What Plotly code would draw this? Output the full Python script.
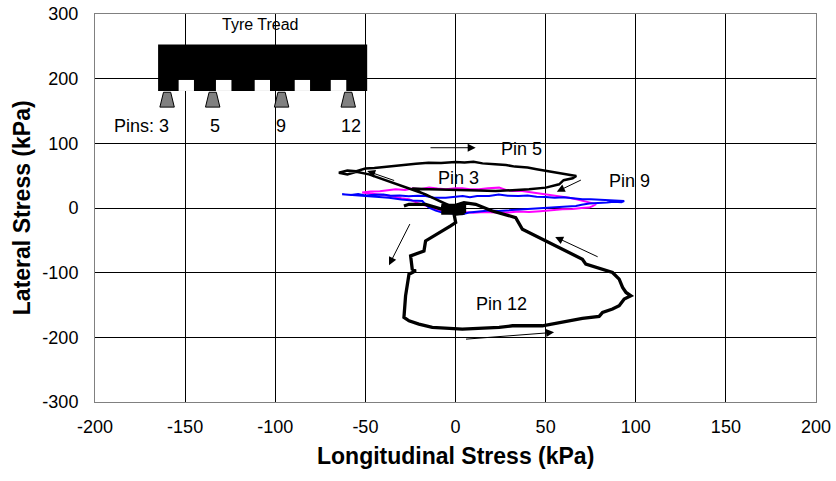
import plotly.graph_objects as go

# ---------------- data ----------------
x_ticks = [-200, -150, -100, -50, 0, 50, 100, 150, 200]
x_tick_labels = ["-200", "-150", "-100", "-50", "0", "50", "100", "150", "200"]
y_ticks = [-300, -200, -100, 0, 100, 200, 300]
y_tick_labels = ["-300", "-200", "-100", "0", "100", "200", "300"]

# Pin 3 (magenta)
pin3_x = [-51.8, -47, -42, -38, -33.2, -28, -24, -19, -14.7, -10, -5.4, 0, 3.8, 8, 13, 18, 24.2,
          28, 31.6, 36, 40, 45, 50.1, 55, 59, 63, 67, 71, 76, 78, 76, 74.2, 70, 65, 59.3, 53, 47,
          40.8, 35, 29, 22.3, 16, 10, 3.8, -2, -7.3, -12, -16.6, -21, -25.8, -30, -36, -42.5, -47, -51.8]
pin3_y = [23.8, 25.5, 26, 27.5, 28.9, 28, 30, 29.5, 31.5, 30, 29, 30.5, 30.4, 29, 29, 30.5, 31.5,
          28, 26.2, 26.5, 25, 23.5, 21.1, 20, 18, 16, 13.5, 11, 8.3, 6, 3, 0.6, 0, -1.5, -2, -3, -5,
          -6.2, -5.5, -7, -7.1, -6, -7.5, -6.2, -5.5, -4.6, -1, 3.1, 8, 13.4, 15, 18.5, 21.1, 22.5, 23.8]

# Pin 9 (blue)
pin9_x = [-62.9, -58, -54, -50, -45, -40, -36, -31, -26, -21, -16.6, -12, -5.4, 0, 4, 8, 12, 18.6,
          24, 29, 35, 40, 45, 50, 55, 60, 65, 70.4, 75, 80, 85, 89, 93.6, 92, 88, 84, 79, 74.2, 70,
          66.8, 62, 56, 50, 44, 37, 30, 24, 18.6, 12, 7.5, 3.8, -2, -7.3, -11, -14.7, -16.5, -18.4,
          -24, -30, -36.9, -42.5, -48, -55, -62.9]
pin9_y = [21.1, 20, 21.5, 19.5, 20.5, 21, 19, 19.5, 18, 19, 18.5, 16, 16, 17.5, 18.5, 16.5, 18.5, 18.5,
          21, 19, 18.5, 19.5, 17.5, 17, 16, 16.5, 14.5, 13.4, 13.5, 12.5, 12, 11.5, 10.8, 9, 9.5, 8.5, 8,
          6.8, 5, 3.1, 2.5, 1.5, 0.6, -0.5, -2, -2.5, -4.5, -4, -6, -7.1, -9.7, -8.5, -7.1, -4, 0.6, 5,
          10.8, 11.5, 13, 16, 17, 18.5, 20, 21.1]

# Pin 5 (black, upper loop)
pin5_x = [-3, -8, -16.6, -23, -29.6, -38, -48, -55, -60, -64.7, -60, -55, -50, -45, -40, -33, -28,
          -22, -15, -8, 0, 5, 10, 15, 22, 28, 33, 40, 45, 52, 57, 63, 67, 65, 60, 57.5, 50.1, 40.8,
          31.5, 22.3, 13, 3.8, -5.4, -14.7, -24, -20, -16.6, -10, -4]
pin5_y = [3, 10, 21.1, 27.5, 34, 43, 52, 56, 52, 54.6, 58, 57, 61, 62, 63.5, 66, 67,
          68.5, 70, 69.5, 71, 70.5, 71.5, 69, 67.5, 66.5, 64, 62.5, 60, 57, 54.5, 52, 49.5, 46, 43,
          36.6, 31.5, 29, 27.5, 26.2, 27, 27.3, 28, 29, 30, 25, 20, 12, 5]

# Pin 12 (black, large lower loop)
pin12_x = [-28.6, -25.8, -16.6, -7.3, -7, 5, 5, -7, -7, 5, 5, -7, -7, 5, -0.8, 0.1, -2.7, -16.6,
           -17.5, -24.9, -24, -22.1, -25.8, -27.7, -28.6, -25.8, -20.3, -12.9, 3.8, 24.2, 31.6, 48.2,
           70.4, 79.7, 81.6, 87.1, 90.8, 93.6, 97.3, 94.6, 92.7, 90.8, 87.1, 81.6, 72.3, 70.4, 50.1,
           42.7, 37.1, 33.4, 20.4, 11.2, 4.7, 0]
pin12_y = [3.1, 5.7, 5.7, -2, 4, 4, 1, 1, -2, -2, -5, -5, -8, -8, -9.7, -22.5, -27.8, -50.9,
           -66.4, -74.1, -94.6, -97.2, -102.3, -135.8, -169.1, -174.4, -179.5, -184.6, -187.2, -184.6,
           -182.1, -182.1, -170.7, -167.6, -161.4, -156.3, -151.2, -140.9, -135.8, -130.6, -122.8, -110,
           -99.7, -94.6, -86.9, -79.2, -50.9, -40.6, -32.9, -14.8, -4.6, 5.7, 8.3, 4]

# ---------------- figure ----------------
fig = go.Figure()
fig.add_trace(go.Scatter(x=pin3_x, y=pin3_y, mode="lines", line=dict(color="#FF00FF", width=2),
                         name="Pin 3", hoverinfo="skip"))
fig.add_trace(go.Scatter(x=pin9_x, y=pin9_y, mode="lines", line=dict(color="#0000FF", width=2),
                         name="Pin 9", hoverinfo="skip"))
fig.add_trace(go.Scatter(x=pin5_x, y=pin5_y, mode="lines", line=dict(color="#000000", width=2.5),
                         name="Pin 5", hoverinfo="skip"))
fig.add_trace(go.Scatter(x=pin12_x, y=pin12_y, mode="lines", line=dict(color="#000000", width=3.3),
                         name="Pin 12", hoverinfo="skip"))

FONT = "Liberation Sans, Arial, sans-serif"

# tyre tread schematic
shapes = []
shapes.append(dict(type="rect", xref="x", yref="y", x0=-165, x1=-49, y0=181, y1=253,
                   fillcolor="black", line=dict(width=0), layer="above"))
for a, b in [(-153.6, -145.1), (-132.9, -124.3), (-111.4, -102.9), (-89.2, -80.7), (-69.2, -60.6)]:
    shapes.append(dict(type="rect", xref="x", yref="y", x0=a, x1=b, y0=181, y1=198,
                       fillcolor="white", line=dict(width=0), layer="above"))
for c in [-160, -134.7, -96.5, -59.5]:
    path = f"M {c-2},179 L {c+2},179 L {c+4},156 L {c-4},156 Z"
    shapes.append(dict(type="path", xref="x", yref="y", path=path, fillcolor="#808080",
                       line=dict(color="black", width=1), layer="above"))

annotations = []
def txt(x, y, s, size=18):
    annotations.append(dict(x=x, y=y, xref="x", yref="y", text=s, showarrow=False,
                            font=dict(family=FONT, size=size, color="black"),
                            xanchor="center", yanchor="middle"))

txt(-108.2, 283.5, "Tyre Tread", 16)
txt(-174.4, 126.5, "Pins: 3")
txt(-133.6, 126.5, "5")
txt(-96.6, 126.5, "9")
txt(-58.2, 126.5, "12")
txt(36.7, 90.6, "Pin 5")
txt(1.9, 46.9, "Pin 3")
txt(96.8, 41.7, "Pin 9")
txt(25.6, -148.6, "Pin 12")

def arrow(tx, ty, hx, hy, head=2):
    annotations.append(dict(x=hx, y=hy, ax=tx, ay=ty, xref="x", yref="y", axref="x", ayref="y",
                            text="", showarrow=True, arrowhead=head, arrowsize=1.6, arrowwidth=1,
                            arrowcolor="black", standoff=0, startstandoff=0))

arrow(-14.7, 93.2, 11.2, 93.2)
arrow(-33.2, 41.7, -49, 57.1)
arrow(70.4, 44.3, 56.2, 25.3)
arrow(-24.9, -22.5, -36.9, -88.4)
arrow(79.7, -76.5, 55.3, -44.7)
arrow(5, -203, 54.7, -192.3)

# axis titles
annotations.append(dict(x=0.5, y=-0.138, xref="paper", yref="paper", text="<b>Longitudinal Stress (kPa)</b>",
                        showarrow=False, font=dict(family=FONT, size=23, color="black"),
                        xanchor="center", yanchor="middle"))
annotations.append(dict(x=-0.101, y=0.5, xref="paper", yref="paper", text="<b>Lateral Stress (kPa)</b>",
                        showarrow=False, textangle=-90, font=dict(family=FONT, size=23, color="black"),
                        xanchor="center", yanchor="middle"))

fig.update_layout(
    width=836, height=481,
    margin=dict(l=95, r=20, t=14, b=79, autoexpand=False),
    paper_bgcolor="white", plot_bgcolor="white",
    showlegend=False,
    font=dict(family=FONT, size=18, color="black"),
    shapes=shapes, annotations=annotations,
)
fig.update_xaxes(range=[-200, 200], tickvals=x_ticks, ticktext=x_tick_labels,
                 showgrid=True, gridcolor="black", gridwidth=1, zeroline=False,
                 showline=True, linecolor="#808080", linewidth=1, mirror=True, automargin=False,
                 ticks="", ticklabelstandoff=8, tickfont=dict(family=FONT, size=18, color="black"))
fig.update_yaxes(range=[-300, 300], tickvals=y_ticks, ticktext=y_tick_labels,
                 showgrid=True, gridcolor="black", gridwidth=1, zeroline=False,
                 showline=True, linecolor="#808080", linewidth=1, mirror=True, automargin=False,
                 ticks="", ticklabelstandoff=12, tickfont=dict(family=FONT, size=18, color="black"))

fig.write_html("out.html", config={"displayModeBar": False},
               post_script="document.body.style.margin='0px';document.body.style.padding='0px';")
